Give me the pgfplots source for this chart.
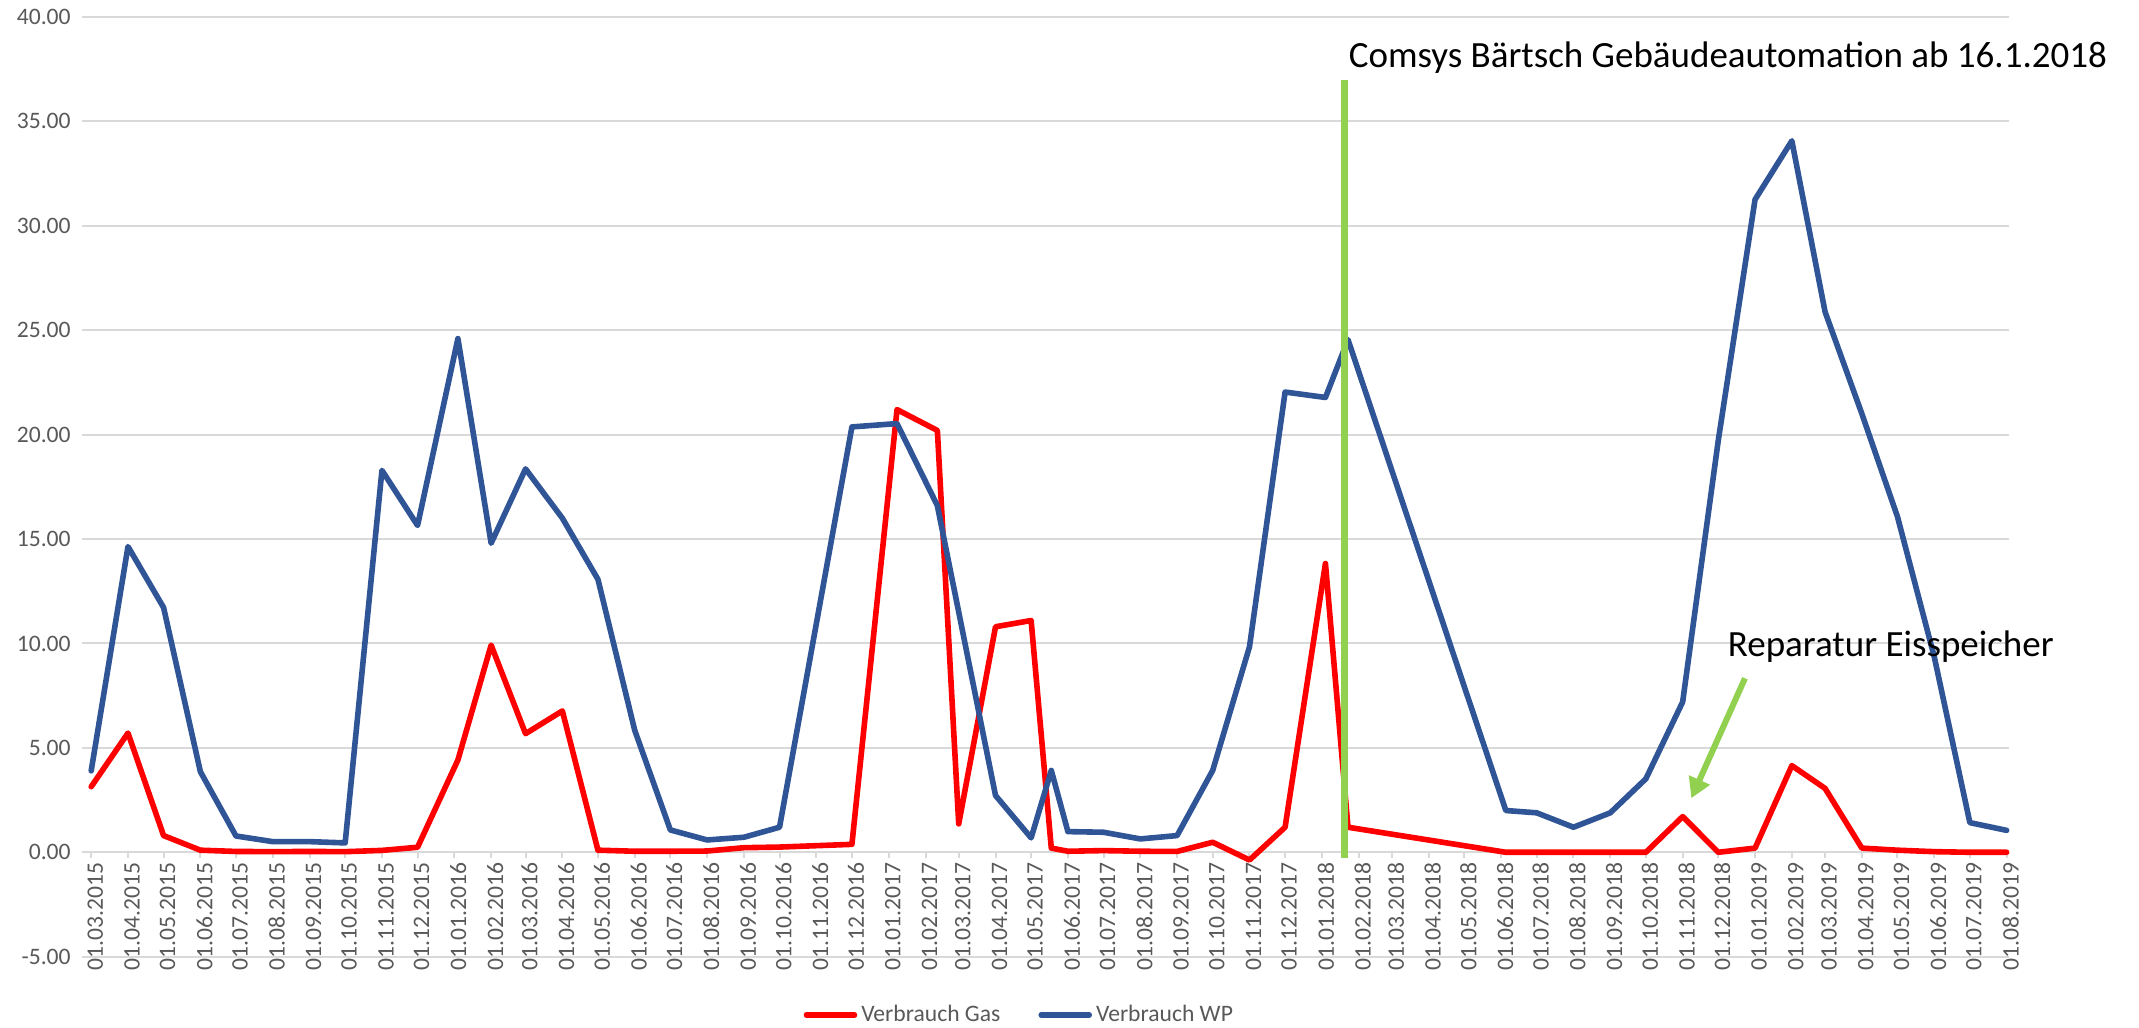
\documentclass[border=0pt]{standalone}
\usepackage{fontspec}
\setmainfont{Carlito}
\usepackage{pgfplots}
\pgfplotsset{compat=1.18}
\usepackage{pgfplotstable}
\usetikzlibrary{arrows.meta}
\definecolor{gasred}{RGB}{255,0,0}
\definecolor{wpblue}{RGB}{47,85,151}
\definecolor{gridgray}{RGB}{217,217,217}
\definecolor{labelgray}{RGB}{89,89,89}
\definecolor{annogreen}{RGB}{146,208,80}

% x = days since 01.03.2015
\pgfplotstableread{
d v
0 3.14
31 5.71
61 0.80
92 0.10
122 0.04
153 0.03
184 0.04
214 0.03
245 0.09
275 0.24
309 4.42
337 9.92
366 5.68
397 6.77
427 0.10
458 0.05
488 0.05
519 0.06
550 0.22
580 0.25
641 0.38
679 21.20
713 20.20
731 1.36
762 10.80
792 11.10
809 0.20
823 0.05
853 0.08
884 0.05
915 0.04
945 0.48
976 -0.37
1006 1.20
1040 13.83
1059 1.20
1192 0.00
1218 0.00
1249 0.00
1280 0.00
1310 0.00
1341 1.71
1371 0.00
1402 0.20
1433 4.15
1461 3.06
1492 0.20
1522 0.10
1553 0.03
1583 0.00
1614 0.00
}\gas

\pgfplotstableread{
d v
0 3.90
31 14.64
61 11.72
92 3.86
122 0.78
153 0.51
184 0.51
214 0.45
245 18.29
275 15.65
309 24.60
337 14.80
366 18.36
397 16.00
427 13.07
458 5.84
488 1.07
519 0.59
550 0.72
580 1.20
641 20.37
679 20.53
713 16.60
762 2.72
792 0.69
809 3.92
823 0.99
853 0.96
884 0.64
915 0.80
945 3.92
976 9.84
1006 22.04
1040 21.78
1059 24.55
1192 2.00
1218 1.89
1249 1.20
1280 1.89
1310 3.52
1341 7.20
1371 19.72
1402 31.26
1433 34.07
1461 25.88
1492 21.00
1522 16.07
1553 9.36
1583 1.42
1614 1.05
}\wp

\begin{document}
\begin{tikzpicture}[x=1pt,y=1pt]
\path[use as bounding box] (0,0) rectangle (1069.5,513.5);
\begin{axis}[
  at={(40.85pt,35.15pt)}, anchor=south west,
  scale only axis, width=963.65pt, height=469.85pt,
  xmin=-8, xmax=1616, ymin=-5, ymax=40,
  clip=false,
  axis x line*=middle, axis y line*=left,
  hide obscured x ticks=false,
  x axis line style={draw=gridgray, line width=1pt},
  y axis line style={draw=none},
  ytick={-5,0,5,10,15,20,25,30,35,40},
  ymajorgrids,
  major grid style={draw=gridgray, line width=1pt},
  xtick={0,31,61,92,122,153,184,214,245,275,306,337,366,397,427,458,488,519,550,580,611,641,672,703,731,762,792,823,853,884,915,945,976,1006,1037,1068,1096,1127,1157,1188,1218,1249,1280,1310,1341,1371,1402,1433,1461,1492,1522,1553,1583,1614},
  xticklabels={01.03.2015,01.04.2015,01.05.2015,01.06.2015,01.07.2015,01.08.2015,01.09.2015,01.10.2015,01.11.2015,01.12.2015,01.01.2016,01.02.2016,01.03.2016,01.04.2016,01.05.2016,01.06.2016,01.07.2016,01.08.2016,01.09.2016,01.10.2016,01.11.2016,01.12.2016,01.01.2017,01.02.2017,01.03.2017,01.04.2017,01.05.2017,01.06.2017,01.07.2017,01.08.2017,01.09.2017,01.10.2017,01.11.2017,01.12.2017,01.01.2018,01.02.2018,01.03.2018,01.04.2018,01.05.2018,01.06.2018,01.07.2018,01.08.2018,01.09.2018,01.10.2018,01.11.2018,01.12.2018,01.01.2019,01.02.2019,01.03.2019,01.04.2019,01.05.2019,01.06.2019,01.07.2019,01.08.2019},
  xtick align=outside,
  x tick style={draw=gridgray, line width=1pt},
  major tick length=3pt,
  y tick style={draw=none},
  xticklabel style={rotate=90, anchor=east, font=\fontsize{11.8}{14}\selectfont, text=labelgray, inner sep=2pt, yshift=-2pt},
  yticklabel style={font=\fontsize{11.8}{14}\selectfont, text=labelgray, anchor=east, xshift=-2pt,
    /pgf/number format/.cd, fixed, fixed zerofill, precision=2, assume math mode=true},
  every axis plot/.append style={line width=2.8pt, line join=round, line cap=round},
  legend style={at={(0.487,-0.062)}, anchor=center, draw=none, fill=none,
    font=\fontsize{11.8}{14}\selectfont, text=labelgray,
    /tikz/every even column/.append style={column sep=17pt}},
  legend columns=2,
  legend cell align=left,
  legend image code/.code={\draw[#1] (0pt,0pt) -- (24pt,0pt);},
]
\addplot[gasred, mark=none] table[x=d, y=v] {\gas};
\addlegendentry{Verbrauch Gas}
\addplot[wpblue, mark=none] table[x=d, y=v] {\wp};
\addlegendentry{Verbrauch WP}

\draw[annogreen, line width=3.2pt] (axis cs:1056,-0.25) -- (axis cs:1056,37.0);
\node[anchor=base west, inner sep=0pt, font=\fontsize{18.5}{22}\selectfont] at (axis cs:1059.4,37.56) {Comsys Bärtsch Gebäudeautomation ab 16.1.2018};
\draw[annogreen, line width=3pt, -{Triangle[length=10pt, width=11pt]}] (axis cs:1393.5,8.33) -- (axis cs:1348.3,2.59);
\node[anchor=base west, inner sep=0pt, font=\fontsize{18.5}{22}\selectfont] at (axis cs:1378.8,9.37) {Reparatur Eisspeicher};
\end{axis}
\end{tikzpicture}
\end{document}
